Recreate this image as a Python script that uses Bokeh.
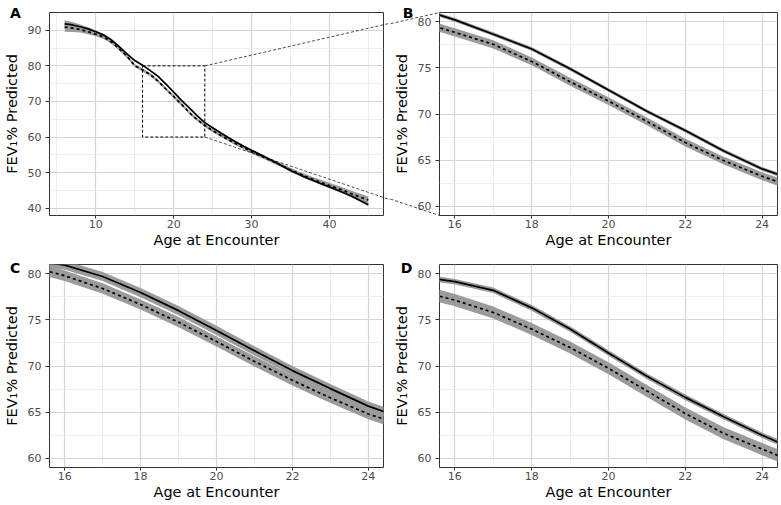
from bokeh.plotting import figure
from bokeh.layouts import column, row
from bokeh.models import Range1d, FixedTicker
from bokeh.core.properties import value
from bokeh.embed import file_html
from bokeh.resources import INLINE

# ---------------- data ----------------
ages_A = list(range(6, 46))
solid_A = [91.8, 91.5, 91.0, 90.4, 89.6, 88.7, 87.3, 85.4, 83.4, 81.5,
           80.2, 78.65, 77.05, 74.9, 72.6, 70.3, 68.2, 66.0, 64.05, 62.6,
           61.2, 59.9, 58.6, 57.4, 56.3, 55.2, 54.1, 53.0, 51.8, 50.6,
           49.6, 48.6, 47.7, 46.8, 46.0, 45.1, 44.2, 43.2, 42.1, 41.0]
solid_A_se = [1.0, 0.8, 0.6, 0.45, 0.35, 0.3, 0.25, 0.25, 0.22, 0.2,
              0.2, 0.2, 0.2, 0.2, 0.2, 0.2, 0.2, 0.2, 0.2, 0.2,
              0.2, 0.2, 0.2, 0.2, 0.2, 0.2, 0.2, 0.2, 0.2, 0.2,
              0.22, 0.24, 0.25, 0.27, 0.28, 0.3, 0.32, 0.35, 0.38, 0.42]
dashed_A = [90.9, 90.6, 90.2, 89.6, 88.9, 88.1, 86.7, 84.8, 82.7, 80.1,
            78.85, 77.55, 75.7, 73.5, 71.4, 69.2, 66.9, 64.95, 63.25, 61.8,
            60.5, 59.3, 58.1, 57.0, 55.9, 54.9, 53.9, 52.9, 51.9, 50.8,
            49.8, 48.9, 48.0, 47.2, 46.4, 45.6, 44.8, 43.9, 43.1, 42.3]
dashed_A_se = [1.3, 1.05, 0.85, 0.7, 0.6, 0.55, 0.5, 0.5, 0.48, 0.46,
               0.45, 0.44, 0.43, 0.43, 0.42, 0.42, 0.42, 0.42, 0.43, 0.43,
               0.43, 0.44, 0.45, 0.46, 0.47, 0.49, 0.51, 0.53, 0.55, 0.58,
               0.6, 0.63, 0.66, 0.7, 0.74, 0.78, 0.83, 0.88, 0.94, 1.0]

ages_CD = list(range(15, 26))
solid_C = [81.6, 80.93, 79.7, 77.96, 76.0, 73.85, 71.65, 69.5, 67.55, 65.65, 64.2]
solid_C_se = [0.55, 0.5, 0.5, 0.5, 0.5, 0.5, 0.5, 0.5, 0.5, 0.5, 0.52]
dashed_C = [80.9, 79.78, 78.4, 76.66, 74.75, 72.65, 70.5, 68.45, 66.55, 64.8, 63.45]
dashed_C_se = [0.62, 0.58, 0.56, 0.55, 0.55, 0.55, 0.55, 0.55, 0.56, 0.58, 0.6]

solid_D = [79.75, 79.14, 78.2, 76.3, 74.0, 71.4, 68.9, 66.6, 64.5, 62.5, 60.7]
solid_D_se = [0.32, 0.3, 0.3, 0.3, 0.3, 0.3, 0.3, 0.3, 0.3, 0.3, 0.32]
dashed_D = [78.2, 77.14, 75.8, 74.0, 72.0, 69.75, 67.3, 64.85, 62.7, 61.0, 59.3]
dashed_D_se = [0.7, 0.66, 0.65, 0.65, 0.65, 0.65, 0.65, 0.65, 0.65, 0.66, 0.7]

zoom_x = [16, 24]
zoom_y = [60, 80]

xticks_A = [10, 20, 30, 40]
xminor_A = [5, 15, 25, 35, 45]
yticks_A = [40, 50, 60, 70, 80, 90]
yminor_A = [45, 55, 65, 75, 85, 95]
xticks_Z = [16, 18, 20, 22, 24]
xminor_Z = [15, 17, 19, 21, 23, 25]
yticks_Z = [60, 65, 70, 75, 80]
yminor_Z = [57.5, 62.5, 67.5, 72.5, 77.5, 82.5]

panel_letters = ["A", "B", "C", "D"]
x_title = "Age at Encounter"
y_title = "FEV\u2081% Predicted"

# ---------------- layout constants ----------------
XR_A = (4.05, 46.95)
YR_A = (37.95, 95.0)
XR_Z = (15.6, 24.4)
YR_Z = (59.0, 81.0)

W_L, W_R = 390, 391
H_T, H_B = 250, 255
L_ml, L_mr = 44, 7
R_ml, R_mr = 47, 4
T_mt, T_mb = 12, 35
B_mt, B_mb = 14, 38

FONT = "DejaVu Sans"
BAND = "#9b9b9b"


def make_fig(w, h, ml, mr, mt, mb, xr, yr, xt, xm, yt, ym):
    p = figure(width=w, height=h, x_range=Range1d(*xr), y_range=Range1d(*yr),
               toolbar_location=None, output_backend="svg",
               min_border_left=ml, min_border_right=mr,
               min_border_top=mt, min_border_bottom=mb)
    p.background_fill_color = "white"
    p.border_fill_color = "white"
    p.outline_line_color = "#333333"
    p.outline_line_width = 1
    p.xaxis.ticker = FixedTicker(ticks=xt, minor_ticks=xm)
    p.yaxis.ticker = FixedTicker(ticks=yt, minor_ticks=ym)
    for ax in (p.xaxis[0], p.yaxis[0]):
        ax.axis_line_color = None
        ax.major_tick_line_color = "#333333"
        ax.major_tick_in = 0
        ax.minor_tick_out = 0
        ax.minor_tick_in = 0
        ax.major_label_text_font = FONT
        ax.major_label_text_font_size = "11px"
        ax.major_label_text_color = "#4d4d4d"
        ax.axis_label_text_font = FONT
        ax.axis_label_text_font_size = "14.5px"
        ax.axis_label_text_font_style = "normal"
        ax.axis_label_text_color = "black"
    p.xaxis.major_tick_out = 3
    p.xaxis.major_label_standoff = 1
    p.xaxis.axis_label_standoff = 1
    p.yaxis.major_tick_out = 4
    p.yaxis.major_label_standoff = 4
    p.yaxis.axis_label_standoff = 5
    p.xaxis.axis_label = x_title
    p.yaxis.axis_label = y_title
    for g in (p.xgrid[0], p.ygrid[0]):
        g.grid_line_color = "#d5d5d5"
        g.grid_line_width = 1.2
        g.minor_grid_line_color = "#e6e6e6"
        g.minor_grid_line_width = 0.7
    return p


def draw_series(p, x, s, s_se, d, d_se):
    p.varea(x=x, y1=[a - b for a, b in zip(s, s_se)], y2=[a + b for a, b in zip(s, s_se)],
            fill_color=BAND)
    p.varea(x=x, y1=[a - b for a, b in zip(d, d_se)], y2=[a + b for a, b in zip(d, d_se)],
            fill_color=BAND)
    p.line(x, s, line_color="black", line_width=1.7)
    p.line(x, d, line_color="black", line_width=1.7, line_dash="3 3")


def px_to_data(px_x, px_y, ml, mt, fw, fh, xr, yr):
    """canvas pixel (from the figure's top-left) -> data coordinates of that figure"""
    x = xr[0] + (px_x - ml) / fw * (xr[1] - xr[0])
    y = yr[1] - (px_y - mt) / fh * (yr[1] - yr[0])
    return x, y


def add_letter(p, txt, cx, cy, ml, mt, fw, fh, xr, yr):
    x, y = px_to_data(cx, cy, ml, mt, fw, fh, xr, yr)
    p.text(x=[x], y=[y], text=[txt], text_font=value(FONT), text_font_style="bold",
           text_font_size="14px", text_baseline="top", text_align="left",
           text_color="black", level="overlay")


pA = make_fig(W_L, H_T, L_ml, L_mr, T_mt, T_mb, XR_A, YR_A, xticks_A, xminor_A, yticks_A, yminor_A)
pB = make_fig(W_R, H_T, R_ml, R_mr, T_mt, T_mb, XR_Z, YR_Z, xticks_Z, xminor_Z, yticks_Z, yminor_Z)
pC = make_fig(W_L, H_B, L_ml, L_mr, B_mt, B_mb, XR_Z, YR_Z, xticks_Z, xminor_Z, yticks_Z, yminor_Z)
pD = make_fig(W_R, H_B, R_ml, R_mr, B_mt, B_mb, XR_Z, YR_Z, xticks_Z, xminor_Z, yticks_Z, yminor_Z)

draw_series(pA, ages_A, solid_A, solid_A_se, dashed_A, dashed_A_se)
draw_series(pB, ages_A, solid_A, solid_A_se, dashed_A, dashed_A_se)
draw_series(pC, ages_CD, solid_C, solid_C_se, dashed_C, dashed_C_se)
draw_series(pD, ages_CD, solid_D, solid_D_se, dashed_D, dashed_D_se)

# zoom rectangle in A
pA.quad(left=zoom_x[0], right=zoom_x[1], bottom=zoom_y[0], top=zoom_y[1],
        fill_color=None, line_color="black", line_width=1, line_dash="3 2")

# connector lines A -> B (computed from the two frames' scales)
fwL = W_L - L_ml - L_mr
fwR = W_R - R_ml - R_mr
fhT = H_T - T_mt - T_mb
fhB = H_B - B_mt - B_mb

# B's frame left edge expressed in A's data x
xB_in_A, _ = px_to_data(W_L + R_ml, 0, L_ml, T_mt, fwL, fhT, XR_A, YR_A)
# A's zoom-box corner expressed in B's data coordinates
corner_px = L_ml + (zoom_x[1] - XR_A[0]) / (XR_A[1] - XR_A[0]) * fwL


def yA_to_B(v):
    py = T_mt + (YR_A[1] - v) / (YR_A[1] - YR_A[0]) * fhT
    return YR_Z[1] - (py - T_mt) / fhT * (YR_Z[1] - YR_Z[0])


xA_in_B = XR_Z[0] + (corner_px - (W_L + R_ml)) / fwR * (XR_Z[1] - XR_Z[0])

conn = dict(line_color="black", line_width=0.7, line_dash="3 2", level="overlay")
pA.segment(x0=[zoom_x[1], zoom_x[1]], y0=[zoom_y[1], zoom_y[0]],
           x1=[xB_in_A, xB_in_A], y1=[YR_A[1], YR_A[0]], **conn)
pB.segment(x0=[xA_in_B, xA_in_B], y0=[yA_to_B(zoom_y[1]), yA_to_B(zoom_y[0])],
           x1=[XR_Z[0], XR_Z[0]], y1=[YR_Z[1], YR_Z[0]], **conn)

add_letter(pA, panel_letters[0], 4, 4, L_ml, T_mt, fwL, fhT, XR_A, YR_A)
add_letter(pB, panel_letters[1], 10, 4, R_ml, T_mt, fwR, fhT, XR_Z, YR_Z)
add_letter(pC, panel_letters[2], 4, 9, L_ml, B_mt, fwL, fhB, XR_Z, YR_Z)
add_letter(pD, panel_letters[3], 8, 9, R_ml, B_mt, fwR, fhB, XR_Z, YR_Z)

layout = column(row(pA, pB), row(pC, pD))

with open("out.html", "w") as f:
    f.write(file_html(layout, INLINE))
